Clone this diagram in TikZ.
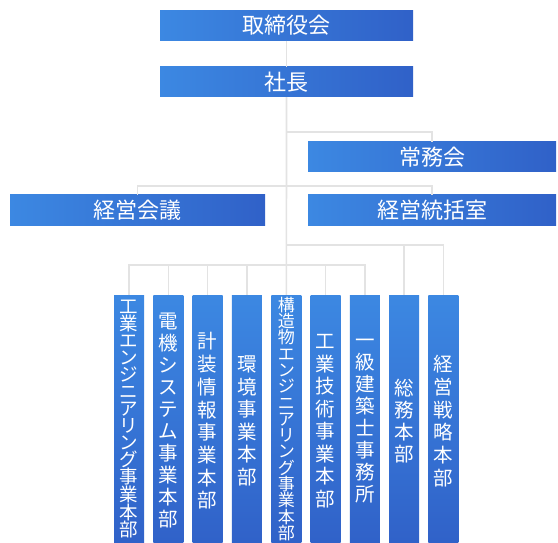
\documentclass[tikz,border=0pt]{standalone}
\usepackage{fontspec}
\newfontfamily\jp{Noto Sans CJK JP}
\definecolor{bL}{HTML}{3C88E2}
\definecolor{bR}{HTML}{3061C8}
\definecolor{lineC}{HTML}{E3E3E3}
\begin{document}
\begin{tikzpicture}[x=1pt,y=-1pt,
  hbox/.style={draw=none, left color=bL, right color=bR, text=white,
    font=\jp\fontsize{22}{24}\selectfont, minimum height=30pt, inner sep=0pt},
  vbox/.style={draw=none, top color=bL, bottom color=bR, text=white, align=center,
    minimum width=30pt, minimum height=252pt, inner sep=0pt},
  vf/.style={font=\jp\fontsize{19.5}{#1}\selectfont},
  vfs/.style 2 args={font=\jp\fontsize{#1}{#2}\selectfont},
  vtxt/.style={text=white, align=center, inner sep=0pt, anchor=north},
  link/.style={draw=lineC, line width=1.6pt}]
\useasboundingbox (0,0) rectangle (558,543);
\clip (0,0) rectangle (558,543);
\coordinate (y1) at (0,132);
\coordinate (y2) at (0,186);
\coordinate (y3) at (0,245);
\coordinate (y4) at (0,265);
% boxes
\node[hbox, minimum width=253pt] (tb) at (286.5,25.5) {取締役会};
\node[hbox, minimum width=253pt] (sc) at (286.5,82) {社長};
\node[hbox, minimum width=248pt] (jm) at (432,157) {常務会};
\node[hbox, minimum width=255pt] (kk) at (137.5,210) {経営会議};
\node[hbox, minimum width=248pt] (kt) at (432,210) {経営統括室};
% departments
\node[vbox] (d1) at (129,421) {};
\node[vtxt, vfs={18.5}{17}] (t1) at ([yshift=-5pt]d1.north) {工\\業\\エ\\ン\\ジ\\ニ\\ア\\リ\\ン\\グ\\事\\業\\本\\部};
\node[vbox, vf=22] (d2) at (168.3,421) {電\\機\\シ\\ス\\テ\\ム\\事\\業\\本\\部};
\node[vbox, vf=22.7] (d3) at (207.6,421) {計\\装\\情\\報\\事\\業\\本\\部};
\node[vbox, vf=22.5] (d4) at (246.9,421) {環\\境\\事\\業\\本\\部};
\node[vbox] (d5) at (286.4,421) {};
\node[vtxt, vfs={17}{16.3}] (t5) at ([yshift=-2pt]d5.north) {構\\造\\物\\エ\\ン\\ジ\\ニ\\ア\\リ\\ン\\グ\\事\\業\\本\\部};
\node[vbox, vf=22.5] (d6) at (325.5,421) {工\\業\\技\\術\\事\\業\\本\\部};
\node[vbox, vf=22] (d7) at (364.8,421) {一\\級\\建\\築\\士\\事\\務\\所};
\node[vbox, vf=22] (d8) at (404.1,421) {総\\務\\本\\部};
\node[vbox, vf=22.8] (d9) at (443.4,421) {経\\営\\戦\\略\\本\\部};
% connectors
\draw[link] (tb.south) -- (sc.north);
\draw[link] (sc.south) -- (d5.north);
\draw[link] (sc.south |- y1) -| (jm.north);
\draw[link] (kk.north) |- (kt.north |- y2) -- (kt.north);
\draw[link] (sc.south |- y3) -| (d9.north);
\draw[link] (d8.north |- y3) -- (d8.north);
\draw[link] (d1.north) |- (d7.north |- y4) -- (d7.north);
\draw[link] (d2.north |- y4) -- (d2.north);
\draw[link] (d3.north |- y4) -- (d3.north);
\draw[link] (d4.north |- y4) -- (d4.north);
\draw[link] (d6.north |- y4) -- (d6.north);
\end{tikzpicture}
\end{document}
